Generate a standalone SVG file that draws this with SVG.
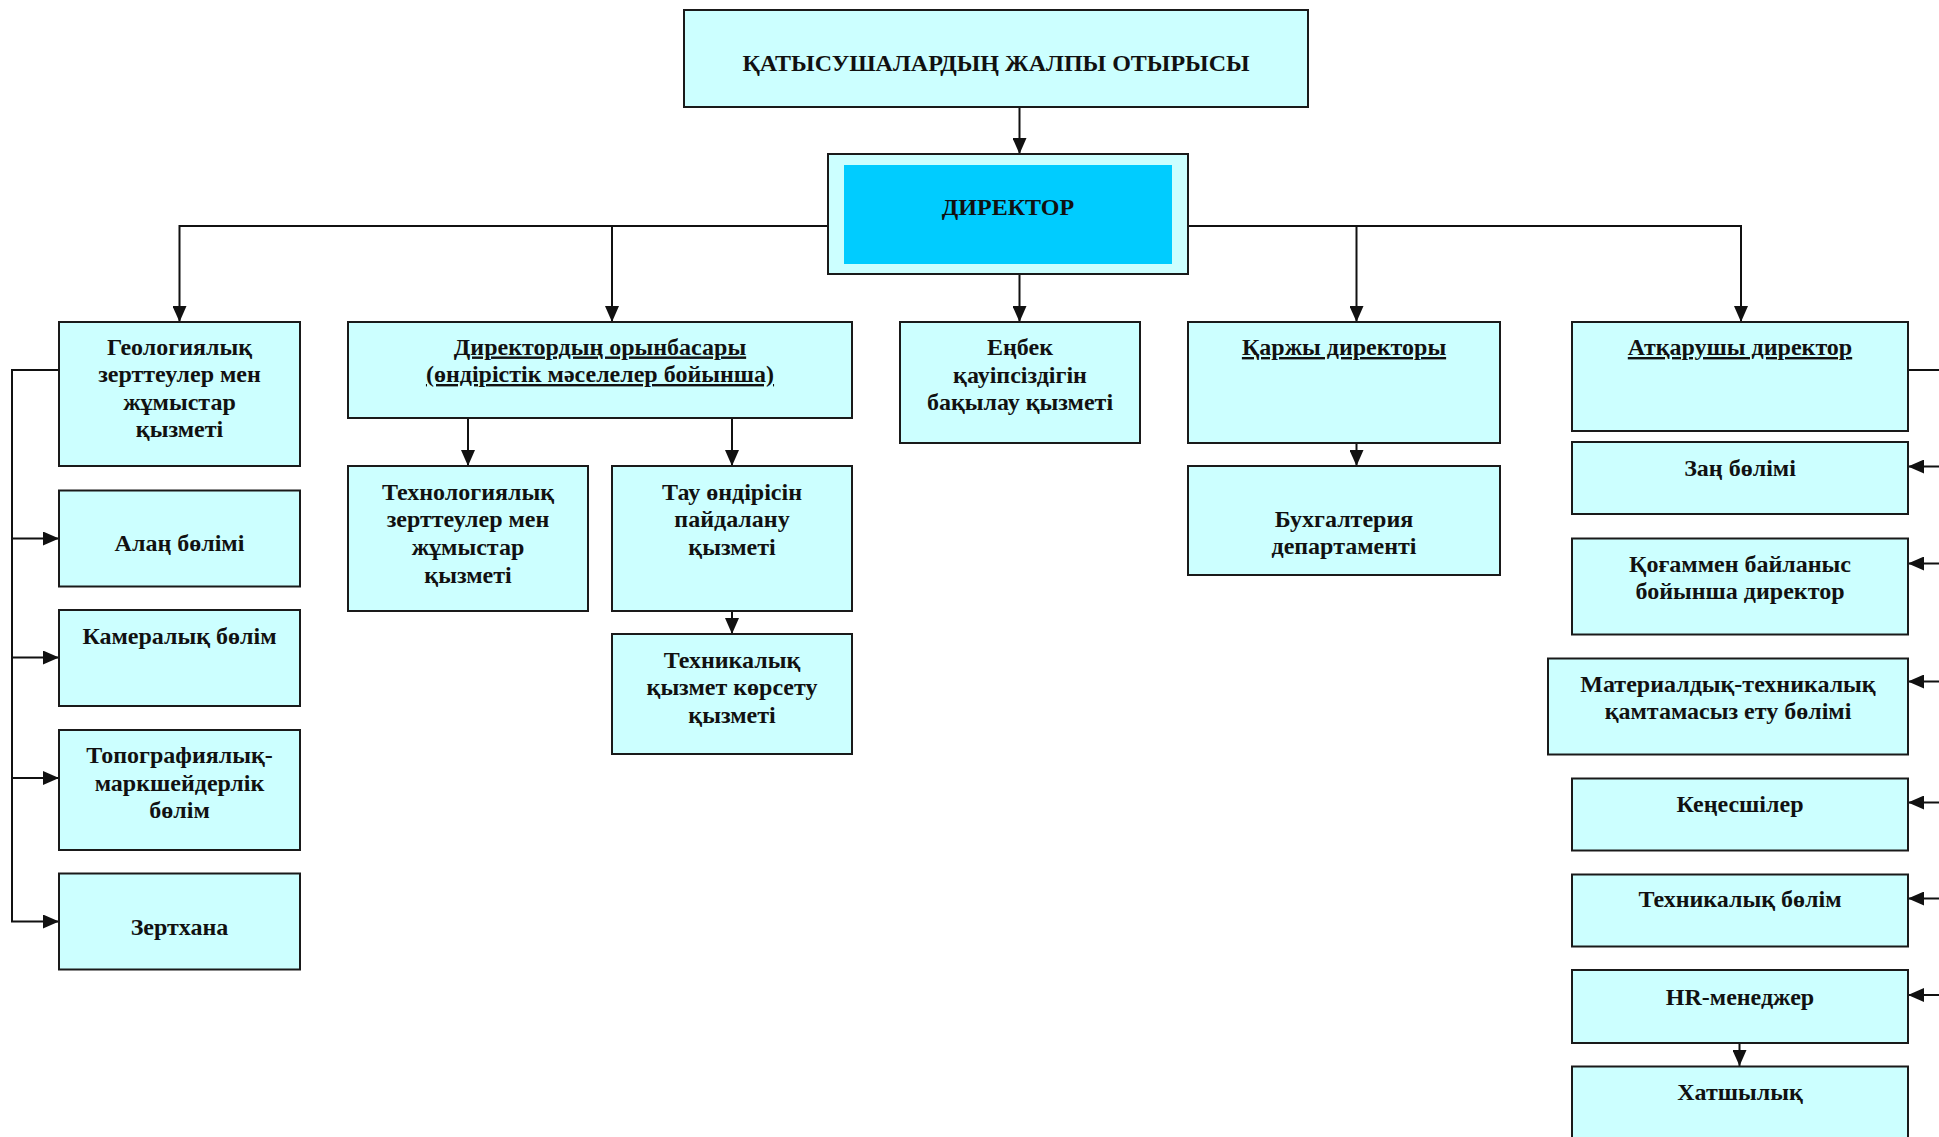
<svg xmlns="http://www.w3.org/2000/svg" width="1939" height="1137" viewBox="0 0 1939 1137">
<style>
.box{fill:#CCFFFF;stroke:#1a1a1a;stroke-width:2}
.t{font-family:"Liberation Serif","Times New Roman",serif;font-weight:bold;font-size:24px;fill:#111;text-anchor:middle}
.u{text-decoration:underline}
.c{fill:none;stroke:#111;stroke-width:2}
</style>
<defs>
<marker id="ah" viewBox="0 0 16 14" refX="16" refY="7" markerWidth="16" markerHeight="14" markerUnits="userSpaceOnUse" orient="auto">
<path d="M0,0 L16,7 L0,14 Z" fill="#111"/>
</marker>
</defs>
<rect width="1939" height="1137" fill="#fff"/>

<g id="connectors">
<path class="c" d="M1019.5,107 V154" marker-end="url(#ah)"/>
<path class="c" d="M828,226 H179.5 V322" marker-end="url(#ah)"/>
<path class="c" d="M612,226 V322" marker-end="url(#ah)"/>
<path class="c" d="M1188,226 H1741 V322" marker-end="url(#ah)"/>
<path class="c" d="M1356.5,226 V322" marker-end="url(#ah)"/>
<path class="c" d="M1019.5,274 V322" marker-end="url(#ah)"/>
<path class="c" d="M468,418 V466" marker-end="url(#ah)"/>
<path class="c" d="M732,418 V466" marker-end="url(#ah)"/>
<path class="c" d="M732,611 V634" marker-end="url(#ah)"/>
<path class="c" d="M1356.5,443 V466" marker-end="url(#ah)"/>
<path class="c" d="M59,370 H12 V921.5 H59" marker-end="url(#ah)"/>
<path class="c" d="M12,538.5 H59" marker-end="url(#ah)"/>
<path class="c" d="M12,657.5 H59" marker-end="url(#ah)"/>
<path class="c" d="M12,778 H59" marker-end="url(#ah)"/>
<path class="c" d="M1908,370 H1939"/>
<path class="c" d="M1939,466.5 H1908" marker-end="url(#ah)"/>
<path class="c" d="M1939,563.5 H1908" marker-end="url(#ah)"/>
<path class="c" d="M1939,681.5 H1908" marker-end="url(#ah)"/>
<path class="c" d="M1939,802.5 H1908" marker-end="url(#ah)"/>
<path class="c" d="M1939,898.5 H1908" marker-end="url(#ah)"/>
<path class="c" d="M1939,995 H1908" marker-end="url(#ah)"/>
<path class="c" d="M1739.5,1043 V1066" marker-end="url(#ah)"/>
</g>

<g id="n-assembly">
<rect class="box" x="684" y="10" width="624" height="97"/>
<text class="t" x="996" y="71">ҚАТЫСУШАЛАРДЫҢ ЖАЛПЫ ОТЫРЫСЫ</text>
</g>
<g id="n-director">
<rect class="box" x="828" y="154" width="360" height="120"/>
<rect x="844" y="165" width="328" height="99" fill="#00CCFF"/>
<text class="t" x="1008" y="214.5">ДИРЕКТОР</text>
</g>
<g id="n-geo">
<rect class="box" x="59" y="322" width="241" height="144"/>
<text class="t" x="179.5" y="354.5">Геологиялық</text>
<text class="t" x="179.5" y="382">зерттеулер мен</text>
<text class="t" x="179.5" y="409.5">жұмыстар</text>
<text class="t" x="179.5" y="437">қызметі</text>
</g>
<g id="n-deputy">
<rect class="box" x="348" y="322" width="504" height="96"/>
<text class="t u" x="600" y="354.5">Директордың орынбасары</text>
<text class="t u" x="600" y="382">(өндірістік мәселелер бойынша)</text>
</g>
<g id="n-safety">
<rect class="box" x="900" y="322" width="240" height="121"/>
<text class="t" x="1020" y="355">Еңбек</text>
<text class="t" x="1020" y="382.5">қауіпсіздігін</text>
<text class="t" x="1020" y="410">бақылау қызметі</text>
</g>
<g id="n-finance">
<rect class="box" x="1188" y="322" width="312" height="121"/>
<text class="t u" x="1344" y="355">Қаржы директоры</text>
</g>
<g id="n-exec">
<rect class="box" x="1572" y="322" width="336" height="109"/>
<text class="t u" x="1740" y="355">Атқарушы директор</text>
</g>
<g id="n-tech">
<rect class="box" x="348" y="466" width="240" height="145"/>
<text class="t" x="468" y="499.5">Технологиялық</text>
<text class="t" x="468" y="527">зерттеулер мен</text>
<text class="t" x="468" y="555">жұмыстар</text>
<text class="t" x="468" y="582.5">қызметі</text>
</g>
<g id="n-mining">
<rect class="box" x="612" y="466" width="240" height="145"/>
<text class="t" x="732" y="499.5">Тау өндірісін</text>
<text class="t" x="732" y="527">пайдалану</text>
<text class="t" x="732" y="555">қызметі</text>
</g>
<g id="n-service">
<rect class="box" x="612" y="634" width="240" height="120"/>
<text class="t" x="732" y="667.5">Техникалық</text>
<text class="t" x="732" y="695">қызмет көрсету</text>
<text class="t" x="732" y="722.5">қызметі</text>
</g>
<g id="n-account">
<rect class="box" x="1188" y="466" width="312" height="109"/>
<text class="t" x="1344" y="526.5">Бухгалтерия</text>
<text class="t" x="1344" y="554">департаменті</text>
</g>
<g id="n-alan">
<rect class="box" x="59" y="490.5" width="241" height="96"/>
<text class="t" x="179.5" y="550.5">Алаң бөлімі</text>
</g>
<g id="n-kameral">
<rect class="box" x="59" y="610" width="241" height="96"/>
<text class="t" x="179.5" y="643.5">Камералық бөлім</text>
</g>
<g id="n-topo">
<rect class="box" x="59" y="730" width="241" height="120"/>
<text class="t" x="179.5" y="763">Топографиялық-</text>
<text class="t" x="179.5" y="790.5">маркшейдерлік</text>
<text class="t" x="179.5" y="818">бөлім</text>
</g>
<g id="n-lab">
<rect class="box" x="59" y="873.5" width="241" height="96"/>
<text class="t" x="179.5" y="935">Зертхана</text>
</g>
<g id="n-legal">
<rect class="box" x="1572" y="442" width="336" height="72"/>
<text class="t" x="1740" y="475.5">Заң бөлімі</text>
</g>
<g id="n-pr">
<rect class="box" x="1572" y="538.5" width="336" height="96"/>
<text class="t" x="1740" y="571.5">Қоғаммен байланыс</text>
<text class="t" x="1740" y="599">бойынша директор</text>
</g>
<g id="n-supply">
<rect class="box" x="1548" y="658.5" width="360" height="96"/>
<text class="t" x="1728" y="691.5">Материалдық-техникалық</text>
<text class="t" x="1728" y="719">қамтамасыз ету бөлімі</text>
</g>
<g id="n-advisors">
<rect class="box" x="1572" y="778.5" width="336" height="72"/>
<text class="t" x="1740" y="811.5">Кеңесшілер</text>
</g>
<g id="n-techdept">
<rect class="box" x="1572" y="874.5" width="336" height="72"/>
<text class="t" x="1740" y="907">Техникалық бөлім</text>
</g>
<g id="n-hr">
<rect class="box" x="1572" y="970" width="336" height="73"/>
<text class="t" x="1740" y="1005">HR-менеджер</text>
</g>
<g id="n-secretary">
<rect class="box" x="1572" y="1066.5" width="336" height="100"/>
<text class="t" x="1740" y="1100">Хатшылық</text>
</g>
</svg>
